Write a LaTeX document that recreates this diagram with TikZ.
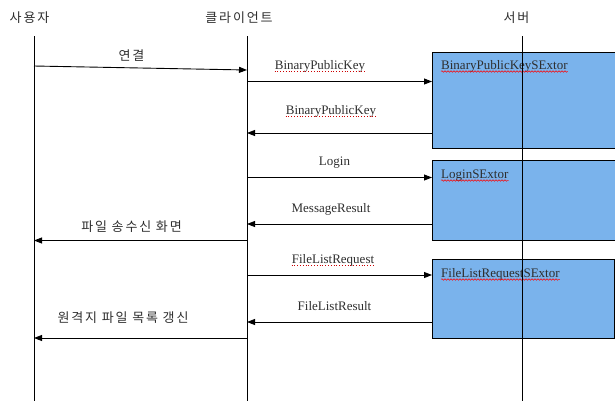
\documentclass[tikz,border=0pt]{standalone}
\usepackage{fontspec}
\setmainfont{Liberation Serif}
\newfontfamily\kofont[LetterSpace=14]{Noto Sans CJK KR}
\usetikzlibrary{arrows.meta,decorations.pathmorphing}

\definecolor{boxblue}{HTML}{7AB3EC}
\definecolor{inkgrey}{HTML}{2E2E2E}

\tikzset{
  lifeline/.style={line width=0.9pt},
  msg/.style={line width=0.9pt,-{Triangle[length=8pt,width=6pt]}},
  head/.style={font=\kofont\fontsize{13}{15}\selectfont,text=inkgrey,inner sep=0pt},
  kolabel/.style={font=\kofont\fontsize{13}{15}\selectfont,text=inkgrey,inner sep=0pt,anchor=base},
  msglabel/.style={font=\fontsize{13}{15}\selectfont,text=inkgrey,inner sep=0pt,anchor=base},
  boxtitle/.style={font=\fontsize{13}{15}\selectfont,text=inkgrey,inner sep=0pt,anchor=base west},
  serverbox/.style={draw,line width=0.9pt,fill=boxblue,anchor=north west,inner sep=0pt},
  squiggle/.style={red,line width=0.5pt,decorate,
    decoration={snake,amplitude=0.8pt,segment length=3pt}},
  dotline/.style={red!80!black,line width=0.8pt,dash pattern=on 0.8pt off 2pt},
}

\begin{document}
\begin{tikzpicture}[x=1pt,y=-1pt]
\useasboundingbox (0,0) rectangle (615,402);

% participants
\node[head] (user)   at (29.5,17.5) {사용자};
\node[head] (client) at (239,17.5)  {클라이언트};
\node[head] (server) at (516.5,17.5) {서버};

\coordinate (uTop) at (34,36);   \coordinate (uBot) at (34,401);
\coordinate (cTop) at (247,36);  \coordinate (cBot) at (247,401);
\coordinate (sTop) at (522,36);  \coordinate (sBot) at (522,401);

% server-side handlers
\node[serverbox,minimum width=183pt,minimum height=96pt] (bx1) at (432,52) {};
\node[serverbox,minimum width=183pt,minimum height=80pt] (bx2) at (432,160) {};
\node[serverbox,minimum width=182pt,minimum height=79pt] (bx3) at (432,259) {};

\node[boxtitle] (t1) at (441,69)  {BinaryPublicKeySExtor};
\node[boxtitle] (t2) at (441,178) {LoginSExtor};
\node[boxtitle] (t3) at (441,277) {FileListRequestSExtor};
\foreach \t in {t1,t2,t3}
  \draw[squiggle] ([yshift=-2.5pt]\t.base west) -- ([yshift=-2.5pt]\t.base east);

% lifelines
\draw[lifeline] (uTop) -- (uBot);
\draw[lifeline] (cTop) -- (cBot);
\draw[lifeline] (sTop) -- (sBot);

% message end points
\coordinate (m0a) at (34,66);   \coordinate (m0b) at (247,70);
\coordinate (m1a) at (247,81.5);  \coordinate (m1b) at (bx1.west |- m1a);
\coordinate (m2a) at (bx1.west |- 0,133); \coordinate (m2b) at (247,133);
\coordinate (m3a) at (247,177.5); \coordinate (m3b) at (bx2.west |- m3a);
\coordinate (m4a) at (bx2.west |- 0,224); \coordinate (m4b) at (247,224);
\coordinate (m5a) at (247,240.5); \coordinate (m5b) at (34,240.5);
\coordinate (m6a) at (247,275);   \coordinate (m6b) at (bx3.west |- m6a);
\coordinate (m7a) at (bx3.west |- 0,322); \coordinate (m7b) at (247,322);
\coordinate (m8a) at (247,338);   \coordinate (m8b) at (34,338);

\draw[msg] (m0a) -- (m0b);
\draw[msg] (m1a) -- (m1b);
\draw[msg] (m2a) -- (m2b);
\draw[msg] (m3a) -- (m3b);
\draw[msg] (m4a) -- (m4b);
\draw[msg] (m5a) -- (m5b);
\draw[msg] (m6a) -- (m6b);
\draw[msg] (m7a) -- (m7b);
\draw[msg] (m8a) -- (m8b);

% message labels
\node[kolabel]  (l0) at (131.5,60) {연결};
\node[msglabel] (l1) at (320,69)   {BinaryPublicKey};
\node[msglabel] (l2) at (331,114)  {BinaryPublicKey};
\node[msglabel] (l3) at (334.5,165) {Login};
\node[msglabel] (l4) at (331,212)  {MessageResult};
\node[kolabel]  (l5) at (131.5,231) {파일 송수신 화면};
\node[msglabel] (l6) at (333,263)  {FileListRequest};
\node[msglabel] (l7) at (334.5,310) {FileListResult};
\node[kolabel]  (l8) at (123,322)  {원격지 파일 목록 갱신};

\foreach \t in {l1,l2,l6}
  \draw[dotline] ([yshift=-2.5pt]\t.base west) -- ([yshift=-2.5pt]\t.base east);
\end{tikzpicture}
\end{document}
